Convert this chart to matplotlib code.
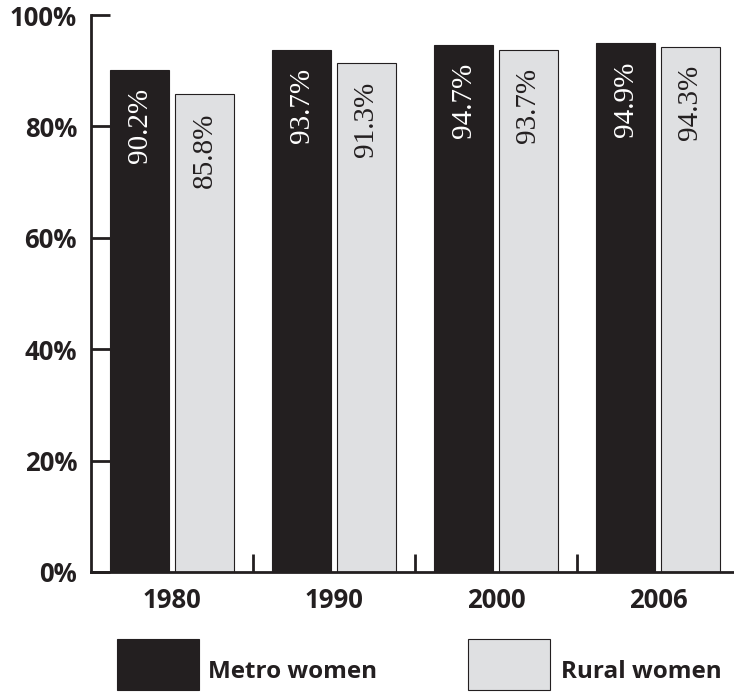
import matplotlib
matplotlib.use("Agg")
import matplotlib.pyplot as plt
from matplotlib.patches import Rectangle
import numpy as np

years = ["1980", "1990", "2000", "2006"]
metro = [90.2, 93.7, 94.7, 94.9]
rural = [85.8, 91.3, 93.7, 94.3]
series_names = ["Metro women", "Rural women"]
y_ticks = [0, 20, 40, 60, 80, 100]
y_tick_labels = ["0%", "20%", "40%", "60%", "80%", "100%"]

BLACK = "#231f20"
GRAY = "#dfe0e2"
W, H = 734, 696
fig = plt.figure(figsize=(W / 100, H / 100), dpi=100)
left, right, bottom, top = 91, 739, 572, 15
ax = fig.add_axes([left / W, (H - bottom) / H, (right - left) / W, (bottom - top) / H])

x = np.arange(len(years))
bw = 0.364
off = 0.2
ax.bar(x - off, metro, bw, color=BLACK, edgecolor=BLACK, linewidth=0.8)
ax.bar(x + off, rural, bw, color=GRAY, edgecolor=BLACK, linewidth=0.8)

label_font = dict(family="Liberation Serif", fontsize=21)
for xi, v in zip(x - off, metro):
    ax.annotate(f"{v:.1f}%", (xi, v), xytext=(0, -13), textcoords="offset points",
                rotation=90, ha="center", va="top", color="white", **label_font)
for xi, v in zip(x + off, rural):
    ax.annotate(f"{v:.1f}%", (xi, v), xytext=(0, -13), textcoords="offset points",
                rotation=90, ha="center", va="top", color=BLACK, **label_font)

ax.set_xlim(-0.5, len(years) - 0.5)
ax.set_ylim(0, 100)
for s in ["top", "right"]:
    ax.spines[s].set_visible(False)
for s in ["left", "bottom"]:
    ax.spines[s].set_linewidth(2)
    ax.spines[s].set_color(BLACK)

bold = dict(family="Open Sans", fontweight="bold", fontsize=18.5)
ax.set_yticks(y_ticks)
ax.set_yticklabels(y_tick_labels, **bold)
ax.tick_params(axis="y", direction="in", length=14, width=2, pad=10, colors=BLACK)

ax.set_xticks(x)
ax.set_xticklabels(years, **bold)
ax.tick_params(axis="x", which="major", length=0, pad=11, colors=BLACK)
ax.set_xticks(np.arange(-0.5, len(years), 1.0)[1:], minor=True)
ax.tick_params(axis="x", which="minor", direction="in", length=13, width=2, color=BLACK)

# legend
for (bx, name, col, tx) in [(117, series_names[0], BLACK, 208), (468, series_names[1], GRAY, 561)]:
    fig.add_artist(Rectangle((bx / W, (H - 690) / H), 82 / W, 51 / H,
                             transform=fig.transFigure, facecolor=col,
                             edgecolor=BLACK, linewidth=0.8))
    fig.text(tx / W, (H - 672) / H, name, ha="left", va="center", color=BLACK,
             family="Open Sans", fontweight="bold", fontsize=17.5)

fig.savefig("out.png", dpi=100)
